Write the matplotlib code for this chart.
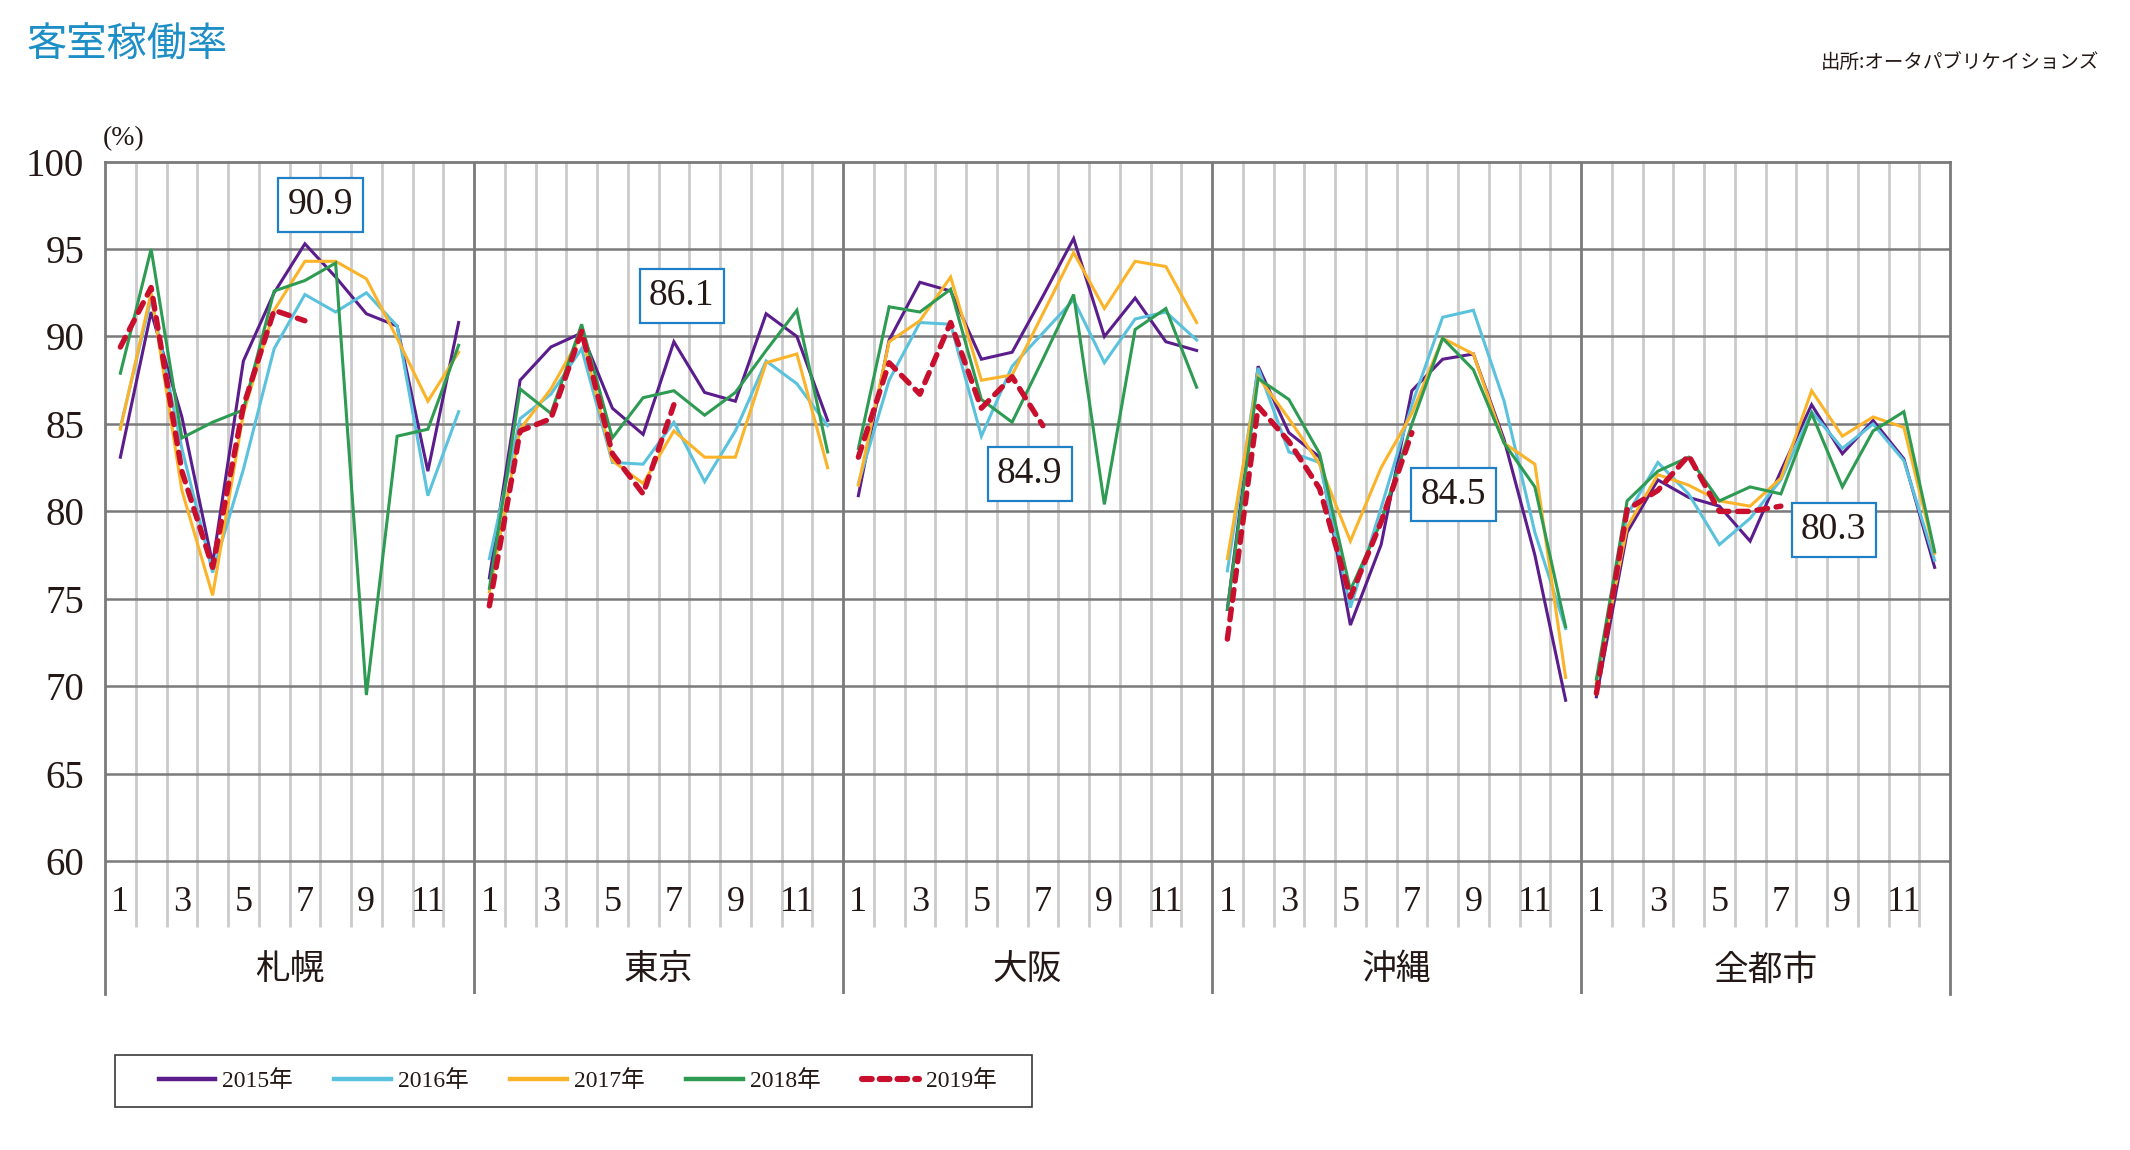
import matplotlib
matplotlib.use("Agg")
import matplotlib.pyplot as plt
from matplotlib.lines import Line2D
from matplotlib.patches import Rectangle
import numpy as np

# ---------------- data ----------------
cities = ["札幌", "東京", "大阪", "沖縄", "全都市"]
year_labels = ["2015年", "2016年", "2017年", "2018年", "2019年"]
month_labels = ["1", "", "3", "", "5", "", "7", "", "9", "", "11", ""]
yticks = [60, 65, 70, 75, 80, 85, 90, 95, 100]

sapporo_2015 = [83.1, 91.4, 85.4, 77.0, 88.6, 92.5, 95.3, 93.4, 91.3, 90.6, 82.3, 90.8]
sapporo_2016 = [84.8, 92.2, 83.6, 76.5, 82.4, 89.3, 92.4, 91.4, 92.5, 90.6, 80.9, 85.7]
sapporo_2017 = [84.7, 92.5, 81.2, 75.2, 85.6, 91.5, 94.3, 94.3, 93.3, 89.9, 86.3, 89.1]
sapporo_2018 = [87.9, 95.0, 84.2, 85.1, 85.8, 92.6, 93.2, 94.2, 69.5, 84.3, 84.7, 89.5]
sapporo_2019 = [89.4, 92.8, 82.3, 76.8, 86.0, 91.5, 90.9]

tokyo_2015 = [76.2, 87.5, 89.4, 90.2, 85.9, 84.4, 89.7, 86.8, 86.3, 91.3, 90.0, 85.2]
tokyo_2016 = [77.3, 85.3, 86.7, 89.3, 82.8, 82.7, 85.1, 81.7, 84.6, 88.6, 87.3, 84.9]
tokyo_2017 = [75.4, 84.7, 87.0, 90.1, 82.9, 81.6, 84.6, 83.1, 83.1, 88.5, 89.0, 82.5]
tokyo_2018 = [75.6, 87.0, 85.6, 90.7, 84.2, 86.5, 86.9, 85.5, 86.8, 89.2, 91.5, 83.4]
tokyo_2019 = [74.6, 84.6, 85.3, 90.3, 83.3, 81.0, 86.1]

osaka_2015 = [80.9, 89.8, 93.1, 92.6, 88.7, 89.1, 92.3, 95.6, 90.0, 92.2, 89.7, 89.2]
osaka_2016 = [81.6, 87.5, 90.8, 90.7, 84.3, 88.3, 90.2, 92.1, 88.5, 91.0, 91.4, 89.8]
osaka_2017 = [81.5, 89.7, 90.9, 93.4, 87.5, 87.8, 91.3, 94.8, 91.6, 94.3, 94.0, 90.8]
osaka_2018 = [83.6, 91.7, 91.4, 92.7, 86.4, 85.1, 88.7, 92.4, 80.4, 90.4, 91.6, 87.1]
osaka_2019 = [83.1, 88.5, 86.7, 90.8, 85.9, 87.7, 84.9]

okinawa_2015 = [74.4, 88.3, 84.5, 83.1, 73.5, 78.1, 86.9, 88.7, 89.0, 84.1, 77.5, 69.2]
okinawa_2016 = [76.6, 88.2, 83.4, 82.8, 74.5, 80.2, 86.1, 91.1, 91.5, 86.3, 78.8, 73.3]
okinawa_2017 = [77.3, 87.7, 85.3, 82.7, 78.3, 82.5, 85.6, 89.9, 89.0, 83.9, 82.7, 70.5]
okinawa_2018 = [74.4, 87.6, 86.4, 83.3, 75.5, 79.4, 85.0, 89.9, 88.1, 83.9, 81.4, 73.4]
okinawa_2019 = [72.7, 86.0, 84.0, 81.3, 75.1, 79.4, 84.5]

all_2015 = [69.4, 78.8, 81.8, 80.8, 80.3, 78.3, 82.3, 86.1, 83.3, 85.2, 83.0, 76.8]
all_2016 = [70.0, 79.8, 82.8, 81.0, 78.1, 79.6, 81.8, 85.7, 83.6, 85.0, 82.9, 77.2]
all_2017 = [70.2, 79.1, 82.1, 81.5, 80.6, 80.3, 81.9, 86.9, 84.3, 85.4, 84.8, 77.6]
all_2018 = [70.4, 80.6, 82.3, 83.1, 80.6, 81.4, 81.0, 85.6, 81.4, 84.6, 85.7, 77.7]
all_2019 = [69.6, 80.1, 81.2, 83.2, 80.0, 80.0, 80.3]

latest_labels = ["90.9", "86.1", "84.9", "84.5", "80.3"]

series = [
    [sapporo_2015, sapporo_2016, sapporo_2017, sapporo_2018, sapporo_2019],
    [tokyo_2015, tokyo_2016, tokyo_2017, tokyo_2018, tokyo_2019],
    [osaka_2015, osaka_2016, osaka_2017, osaka_2018, osaka_2019],
    [okinawa_2015, okinawa_2016, okinawa_2017, okinawa_2018, okinawa_2019],
    [all_2015, all_2016, all_2017, all_2018, all_2019],
]

# ---------------- style ----------------
colors = ["#5B1C8C", "#5BC2DE", "#FBB42A", "#2E9B52", "#C8102E"]
dark = "#7a7a7a"
light = "#cbcbcb"
serif_jp = ["Liberation Serif", "Noto Sans CJK JP"]
jp = ["Noto Sans CJK JP", "DejaVu Sans"]

W, H = 2130, 1150
fig = plt.figure(figsize=(W / 100, H / 100), dpi=100)

top_px, y60_px, bottom_px = 161.6, 861.2, 994
left_px, right_px = 105, 1950
ppu = (y60_px - top_px) / 40.0
ybot = 100 - (bottom_px - top_px) / ppu

ax = fig.add_axes([left_px / W, 1 - bottom_px / H, (right_px - left_px) / W, (bottom_px - top_px) / H])
ax.set_xlim(0, 60)
ax.set_ylim(ybot, 100)

def py(px):
    return 100 - (px - top_px) / ppu

# light month lines
for p in range(5):
    for k in range(1, 12):
        ax.plot([p * 12 + k, p * 12 + k], [py(927), 100], color=light, lw=2.0, zorder=1, solid_capstyle="butt")
# horizontal grid
for v in yticks[:-1]:
    ax.plot([0, 60], [v, v], color=dark, lw=1.8, zorder=2, solid_capstyle="butt")
# panel separators
for p in range(1, 5):
    ax.plot([p * 12, p * 12], [ybot, 100], color=dark, lw=2.0, zorder=2, solid_capstyle="butt")

for s in ["left", "right", "top"]:
    ax.spines[s].set_color(dark)
    ax.spines[s].set_linewidth(2.0)
ax.spines["bottom"].set_visible(False)

ax.set_xticks([])
ax.set_yticks(yticks)
ax.set_yticklabels([str(v) for v in yticks], fontfamily="Liberation Serif", fontsize=28, color="#231815")
ax.tick_params(axis="y", length=0, pad=15)

# data lines
for p, city_series in enumerate(series):
    for i, vals in enumerate(city_series):
        x = p * 12 + np.arange(len(vals)) + 0.5
        if i == 4:
            ax.plot(x, vals, color=colors[i], lw=3.9, dashes=(2.0, 1.6),
                    dash_capstyle="round", solid_capstyle="round", zorder=6, clip_on=False)
        else:
            ax.plot(x, vals, color=colors[i], lw=2.2, zorder=3 + i * 0.1, solid_joinstyle="miter")

# month labels and city names
for p in range(5):
    for k, lab in enumerate(month_labels):
        if lab:
            ax.text(p * 12 + k + 0.5, py(903), lab, ha="center", va="center",
                    fontfamily="Liberation Serif", fontsize=26, color="#231815")
    ax.text(p * 12 + 6, py(970), cities[p], ha="center", va="center",
            fontfamily=jp, fontsize=25, color="#231815")

# latest value boxes
box_pos = [(7.01, py(205)), (18.76, py(296)), (30.07, py(474)), (43.85, py(494.5)), (56.22, py(530))]
for (bx, by), lab in zip(box_pos, latest_labels):
    ax.text(bx, by, lab, ha="center", va="center", fontfamily="Liberation Serif",
            fontsize=27, color="#231815", zorder=10,
            bbox=dict(boxstyle="square,pad=0.25", facecolor="white", edgecolor="#1f80c8", linewidth=1.6))

# (%) unit
fig.text(124 / W, 1 - 139 / H, "(%)", ha="center", va="center", fontfamily="Liberation Serif",
         fontsize=20, color="#231815")

# title and source
fig.text(27 / W, 1 - 45 / H, "客室稼働率", ha="left", va="center", fontfamily=jp,
         fontsize=29, color="#1E8EC6")
fig.text(2099 / W, 1 - 62 / H, "出所:オータパブリケイションズ", ha="right", va="center",
         fontfamily=jp, fontsize=14, color="#231815")

# legend (frame drawn separately)
lx0, ly0, lx1, ly1 = 115, 1055, 1032, 1107
fig.patches.append(Rectangle((lx0 / W, 1 - ly1 / H), (lx1 - lx0) / W, (ly1 - ly0) / H,
                             transform=fig.transFigure, fill=False, edgecolor="#3a3a3a",
                             linewidth=1.2, zorder=5))
handles = []
for i in range(5):
    if i == 4:
        handles.append(Line2D([], [], color=colors[i], lw=4.4, dashes=(1.6, 1.3), dash_capstyle="round"))
    else:
        handles.append(Line2D([], [], color=colors[i], lw=3.2))
leg = fig.legend(handles, year_labels, loc="center",
                 bbox_to_anchor=((lx0 + lx1) / 2 / W + 4 / W, 1 - (ly0 + ly1) / 2 / H),
                 ncol=5, borderaxespad=0, borderpad=0, frameon=False,
                 handlelength=2.4, handletextpad=0.3, columnspacing=1.75,
                 prop={"family": serif_jp, "size": 17})
for t in leg.get_texts():
    t.set_color("#231815")

fig.savefig("out.png", dpi=100, facecolor="white")
